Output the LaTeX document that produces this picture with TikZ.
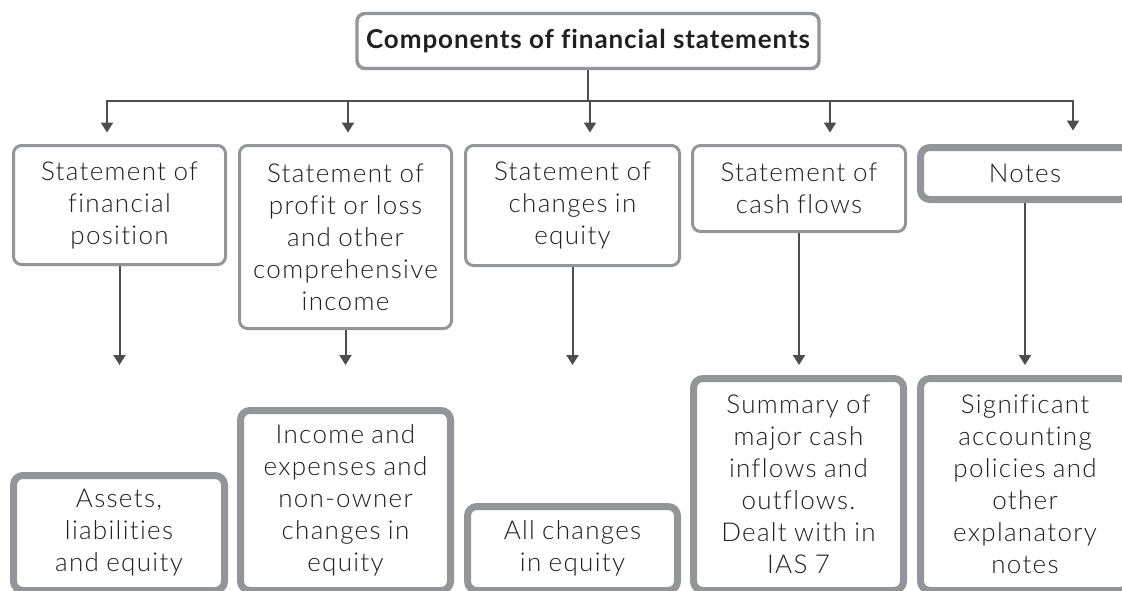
\documentclass[tikz,border=0pt]{standalone}
\usepackage{fontspec}
\IfFontExistsTF{Lato Light}
  {\setmainfont{Lato Light}[LetterSpace=5, WordSpace=0.88, Ligatures=NoCommon]}
  {\setmainfont{Lato}[LetterSpace=5, WordSpace=0.88, Ligatures=NoCommon]}
\newfontfamily\headfont{Lato}[LetterSpace=3.5, Ligatures=NoCommon]
\usetikzlibrary{arrows.meta,backgrounds}

\definecolor{boxgray}{HTML}{939598}
\definecolor{arrowgray}{HTML}{4D4D4F}
\definecolor{txt}{HTML}{1F1F1F}
\definecolor{headtxt}{HTML}{231F20}

\newcommand\bodyfont{\fontsize{19.5}{24}\selectfont}

\tikzset{
  sz/.style 2 args={minimum width={#1*0.75pt}, minimum height={#2*0.75pt}},
  thinbox/.style={draw=boxgray, line width=2.25pt, rounded corners=6pt,
    fill=white, inner sep=0pt, align=center, text=txt, font=\bodyfont},
  thickbox/.style={thinbox, line width=5.25pt, rounded corners=7pt},
  headbox/.style={thinbox, line width=2.6pt, text=headtxt,
    font=\headfont\bfseries\fontsize{19.5}{24}\selectfont},
  link/.style={draw=arrowgray, line width=1.5pt},
  arr/.style={link, -{Triangle[width=9pt,length=7.5pt]}},
}

\begin{document}
\begin{tikzpicture}[x=0.75pt, y=-0.75pt]
  \useasboundingbox (0,0) rectangle (1122,590);
  \clip (0,0) rectangle (1122,590);

  % heading
  \node[headbox, sz={462}{55}] (T) at (588,41) {Components of financial statements};

  % the five components
  \node[thinbox, sz={212}{119}] (B1) at (119.5,205) {Statement of\\financial\\position};
  \node[thinbox, sz={212}{183}] (B2) at (345.5,237) {Statement of\\profit or loss\\and other\\comprehensive\\income};
  \node[thinbox, sz={214}{120}] (B3) at (572.5,205.5) {Statement of\\changes in\\equity};
  \node[thinbox, sz={213}{86}] (B4) at (799,188.5) {Statement of\\cash flows};
  \node[thickbox, sz={209}{52}] (B5) at (1025,173.5) {Notes};

  % what each component presents
  \node[thickbox, sz={211}{115}] (C1) at (119,533) {Assets,\\liabilities\\and equity};
  \node[thickbox, sz={210}{180}] (C2) at (345.5,500.5) {Income and\\expenses and\\non-owner\\changes in\\equity};
  \node[thickbox, sz={210}{84}] (C3) at (572.5,548.5) {All changes\\in equity};
  \node[thickbox, sz={210}{212}] (C4) at (798.5,484.5) {Summary of\\major cash\\inflows and\\outflows.\\Dealt with in\\IAS 7};
  \node[thickbox, sz={209}{212}] (C5) at (1025,484.5) {Significant\\accounting\\policies and\\other\\explanatory\\notes};

  % bus from the heading to the components
  \coordinate (hub) at (588,101);
  \coordinate (d1) at (107,101);
  \coordinate (d2) at (348,101);
  \coordinate (d3) at (590,101);
  \coordinate (d4) at (830,101);
  \coordinate (d5) at (1073,101);
  \coordinate (lvl) at (0,365);

  \begin{scope}[on background layer]
    \draw[link] (T.south) -- (hub);
    \draw[link] ([xshift=-0.75pt]d1) -- ([xshift=0.75pt]d5);
    \draw[arr, shorten >=8.6pt] (d1) -- (d1 |- B1.north);
    \draw[arr, shorten >=8.6pt] (d2) -- (d2 |- B2.north);
    \draw[arr, shorten >=8.6pt] (d3) -- (d3 |- B3.north);
    \draw[arr, shorten >=8.6pt] (d4) -- (d4 |- B4.north);
    \draw[arr, shorten >=10.1pt] (d5) -- (d5 |- B5.north);

    \draw[arr] (B1.south) -- (B1.south |- lvl);
    \draw[arr] (B2.south) -- (B2.south |- lvl);
    \draw[arr] (B3.south) -- (B3.south |- lvl);
    \draw[arr] (B4.south) -- (B4.south |- lvl);
    \draw[arr] (B5.south) -- (B5.south |- lvl);
  \end{scope}
\end{tikzpicture}
\end{document}
